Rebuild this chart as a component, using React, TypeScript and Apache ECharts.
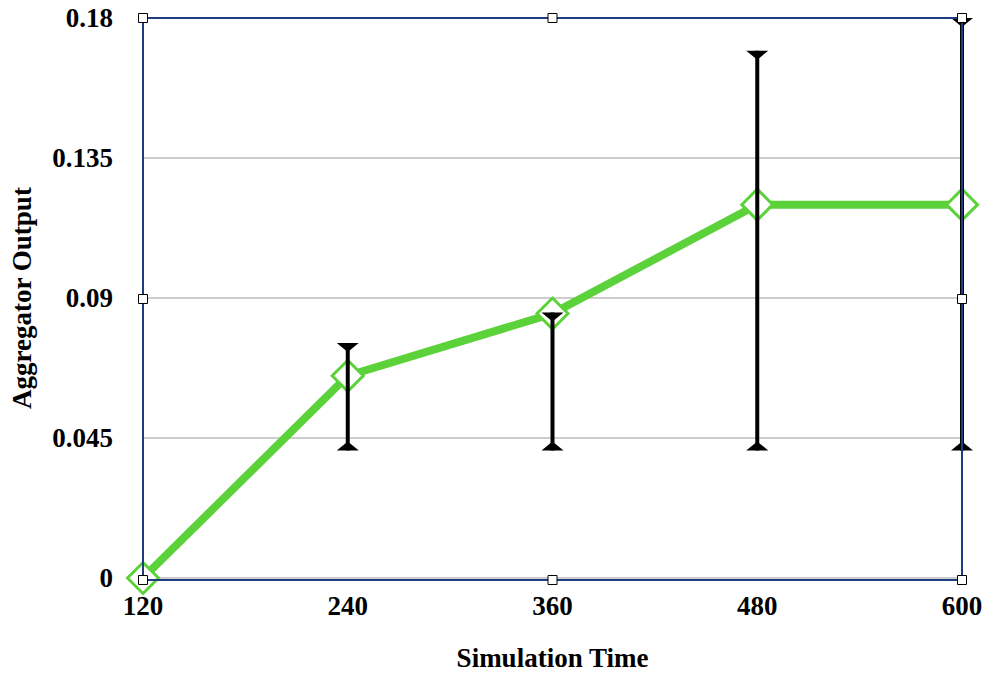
import React, { useEffect, useRef } from "react";
import * as echarts from "echarts";

const times = [120, 240, 360, 480, 600];
const outputs = [0, 0.065, 0.085, 0.12, 0.12];
const errTimes = [240, 360, 480, 600];
const errLow = [0.041, 0.041, 0.041, 0.041];
const errHigh = [0.0755, 0.0853, 0.1695, 0.18];
const yTicks = { min: 0, max: 0.18, interval: 0.045 };
const xTicks = { min: 120, max: 600, interval: 120 };

const W = 988;
const H = 676;
const G = { left: 143, top: 18, right: 26, bottom: 96 };

export default function App() {
  const ref = useRef<HTMLDivElement>(null);
  useEffect(() => {
    if (!ref.current) return;
    const chart = echarts.init(ref.current, null, { renderer: "svg" });
    const font = "'Liberation Serif', 'Times New Roman', serif";
    const fs = 27;
    const gx0 = G.left;
    const gy0 = G.top;
    const gw = W - G.left - G.right;
    const gh = H - G.top - G.bottom;
    const hs = 9;
    const handlePts: [number, number][] = [
      [gx0, gy0], [gx0 + gw / 2, gy0], [gx0 + gw, gy0],
      [gx0, gy0 + gh / 2], [gx0 + gw, gy0 + gh / 2],
      [gx0, gy0 + gh], [gx0 + gw / 2, gy0 + gh], [gx0 + gw, gy0 + gh],
    ];
    const errData = errTimes.map((t, i) => [t, errLow[i], errHigh[i]]);
    chart.setOption({
      animation: false,
      backgroundColor: "#ffffff",
      grid: { left: G.left, top: G.top, right: G.right, bottom: G.bottom, containLabel: false },
      xAxis: {
        type: "value",
        min: xTicks.min,
        max: xTicks.max,
        interval: xTicks.interval,
        name: "Simulation Time",
        nameLocation: "middle",
        nameGap: 66,
        nameTextStyle: { fontFamily: font, fontWeight: "bold", fontSize: fs, color: "#000" },
        axisLine: { show: false },
        axisTick: { show: false },
        splitLine: { show: false },
        axisLabel: { fontFamily: font, fontWeight: "bold", fontSize: fs, color: "#000", margin: 14 },
      },
      yAxis: {
        type: "value",
        min: yTicks.min,
        max: yTicks.max,
        interval: yTicks.interval,
        name: "Aggregator Output",
        nameLocation: "middle",
        nameGap: 108,
        nameRotate: 90,
        nameTextStyle: { fontFamily: font, fontWeight: "bold", fontSize: fs, color: "#000" },
        axisLine: { show: false },
        axisTick: { show: false },
        splitLine: { show: true, lineStyle: { color: "#BDBDBD", width: 1.5 } },
        axisLabel: { fontFamily: font, fontWeight: "bold", fontSize: fs, color: "#000", margin: 30 },
      },
      series: [
        {
          type: "line",
          data: times.map((t, i) => [t, outputs[i]]),
          lineStyle: { color: "#5CD23A", width: 8 },
          symbol: "diamond",
          symbolSize: [31, 31],
          itemStyle: { color: "#ffffff", borderColor: "#5CD23A", borderWidth: 3 },
          z: 2,
        },
        {
          type: "custom",
          data: errData,
          z: 3,
          renderItem: (params: any, api: any) => {
            const x = api.value(0);
            const lo = api.coord([x, api.value(1)]);
            const hi = api.coord([x, api.value(2)]);
            const cx = lo[0];
            const hw = 11;
            const th = 9;
            return {
              type: "group",
              children: [
                {
                  type: "line",
                  shape: { x1: cx, y1: hi[1], x2: cx, y2: lo[1] },
                  style: { stroke: "#000", lineWidth: 4 },
                },
                {
                  type: "polygon",
                  shape: { points: [[cx - hw, hi[1]], [cx + hw, hi[1]], [cx, hi[1] + th]] },
                  style: { fill: "#000" },
                },
                {
                  type: "polygon",
                  shape: { points: [[cx - hw, lo[1]], [cx + hw, lo[1]], [cx, lo[1] - th]] },
                  style: { fill: "#000" },
                },
              ],
            };
          },
        },
      ],
      graphic: [
        {
          type: "rect",
          z: 100,
          shape: { x: gx0, y: gy0, width: gw, height: gh },
          style: { fill: "none", stroke: "#1F3C80", lineWidth: 2 },
          silent: true,
        },
        ...handlePts.map((p) => ({
          type: "rect",
          z: 101,
          shape: { x: p[0] - hs / 2, y: p[1] - hs / 2, width: hs, height: hs },
          style: { fill: "#ffffff", stroke: "#000", lineWidth: 1 },
          silent: true,
        })),
      ],
    });
    return () => chart.dispose();
  }, []);
  return (
    <div
      ref={ref}
      style={{ position: "fixed", left: 0, top: 0, width: W + "px", height: H + "px", background: "#fff" }}
    />
  );
}
